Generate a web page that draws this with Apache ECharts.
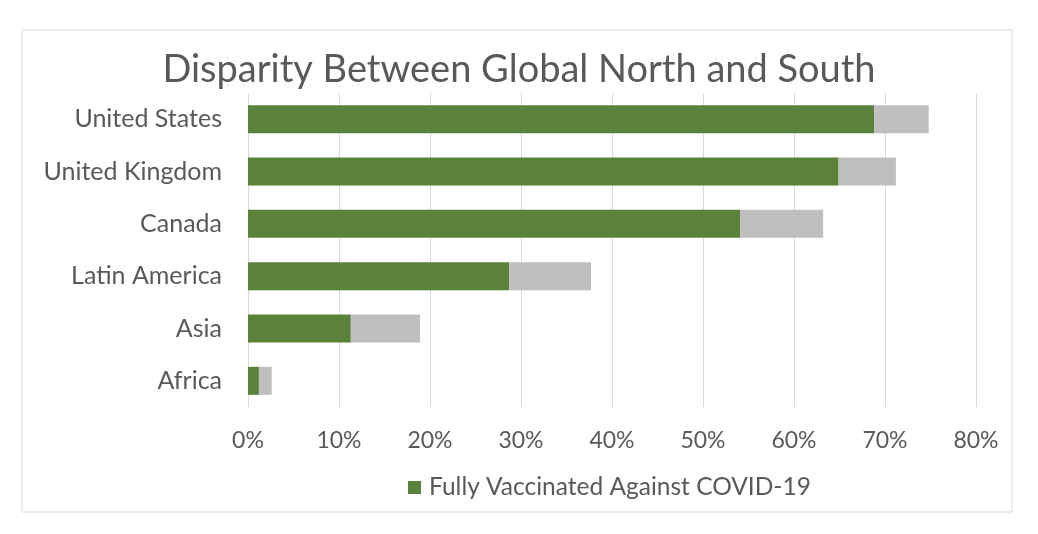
<!DOCTYPE html>
<html>
<head>
<meta charset="utf-8">
<script src="https://cdn.jsdelivr.net/npm/echarts@6/dist/echarts.min.js"></script>
<style>
  html, body { margin: 0; padding: 0; background: #fff; }
  #box { width: 1038px; height: 534px; }
</style>
</head>
<body>
<div id="box"></div>
<script>
// categories top to bottom
let regions = ["United States", "United Kingdom", "Canada", "Latin America", "Asia", "Africa"];
// % fully vaccinated (green)
let fullyVaccinated = [68.8, 64.9, 54.1, 28.7, 11.3, 1.2];
// extra % partly vaccinated, stacked on top (grey)
let partlyVaccinated = [6.0, 6.3, 9.1, 9.0, 7.6, 1.4];
let xTicks = { min: 0, max: 80, step: 10 };

let font = "Lato, 'Noto Sans', sans-serif";
let chart = echarts.init(document.getElementById("box"), null, { renderer: "canvas" });

let option = {
  animation: false,
  textStyle: { fontFamily: font },
  title: {
    text: "Disparity Between Global North and South",
    left: "center",
    top: 46,
    textStyle: { fontFamily: font, fontSize: 38, fontWeight: "normal", color: "#595959" }
  },
  graphic: [{
    type: "rect",
    shape: { x: 22, y: 30, width: 990, height: 482 },
    style: { fill: "none", stroke: "#d9d9d9", lineWidth: 1 },
    silent: true
  }],
  // legend sits centred under the plot area, not the whole box
  legend: {
    data: ["Fully Vaccinated Against COVID-19"],
    bottom: 29,
    left: 403,
    itemWidth: 13,
    itemHeight: 13,
    icon: "rect",
    textStyle: { fontFamily: font, fontSize: 24.5, color: "#595959", padding: [0, 0, 0, 3] }
  },
  grid: { left: 248, right: 62, top: 93, bottom: 127 },
  xAxis: {
    type: "value",
    min: xTicks.min,
    max: xTicks.max,
    interval: xTicks.step,
    axisLine: { show: false },
    axisTick: { show: false },
    splitLine: { lineStyle: { color: "#d9d9d9" } },
    axisLabel: {
      formatter: "{value}%",
      fontFamily: font,
      fontSize: 23,
      color: "#595959",
      margin: 22
    }
  },
  yAxis: {
    type: "category",
    data: regions,
    inverse: true,
    axisLine: { show: false },
    axisTick: { show: false },
    axisLabel: { fontFamily: font, fontSize: 25, color: "#595959", margin: 26 }
  },
  series: [
    {
      name: "Fully Vaccinated Against COVID-19",
      type: "bar",
      stack: "vax",
      data: fullyVaccinated,
      barWidth: 28,
      itemStyle: { color: "#5a823a" }
    },
    {
      name: "Partly Vaccinated",
      type: "bar",
      stack: "vax",
      data: partlyVaccinated,
      barWidth: 28,
      itemStyle: { color: "#bfbfbf" }
    }
  ]
};

chart.setOption(option);
</script>
</body>
</html>
